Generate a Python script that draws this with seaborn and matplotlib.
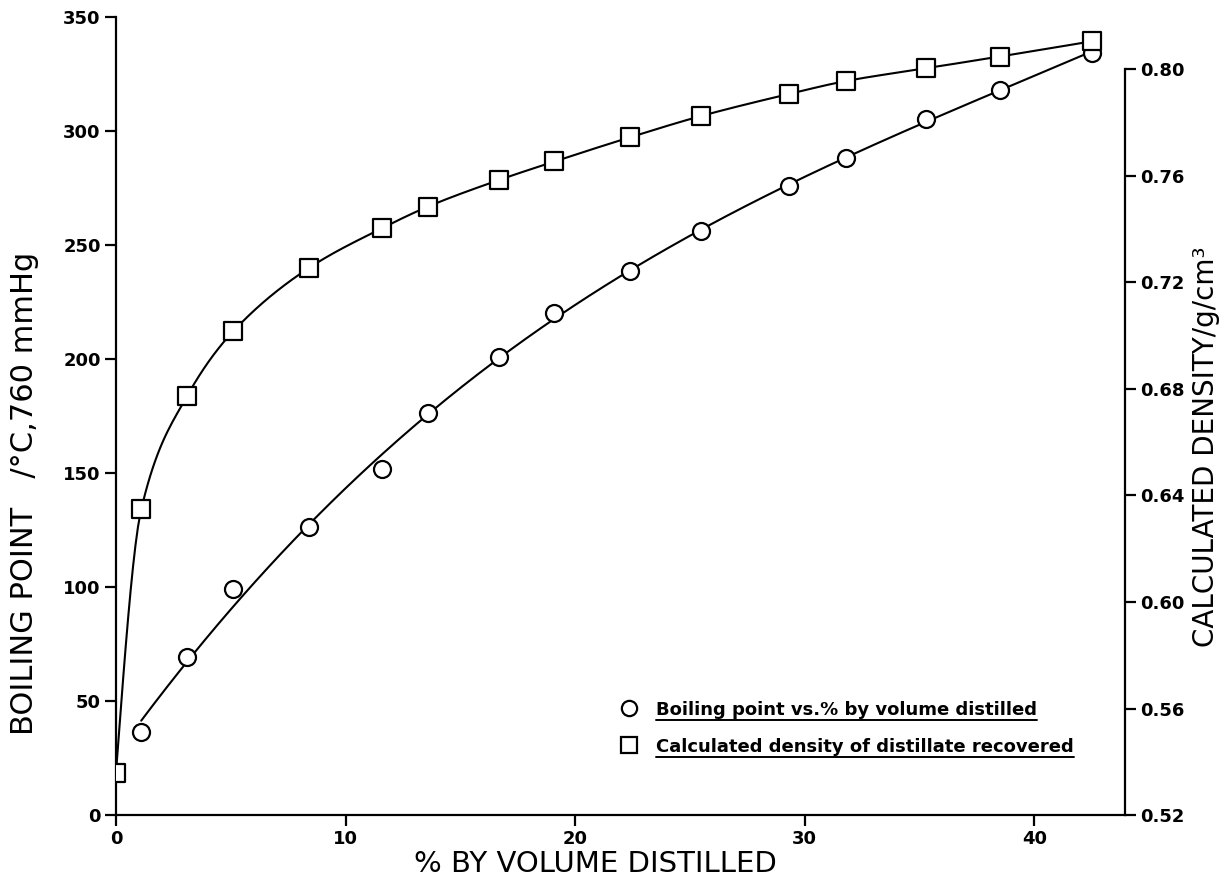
import numpy as np
import pandas as pd
import matplotlib
matplotlib.use("Agg")
import matplotlib.pyplot as plt
from matplotlib.lines import Line2D
import seaborn as sns

# values
pct_bp = [1.1, 3.1, 5.1, 8.4, 11.6, 13.6, 16.7, 19.1, 22.4, 25.5, 29.3, 31.8, 35.3, 38.5, 42.5]
boiling = [36.5, 69.4, 99.1, 126.5, 151.6, 176.2, 200.7, 220.0, 238.6, 256.1, 275.9, 288.3, 305.3, 318.0, 334.1]
pct_dens = [0.0, 1.1, 3.1, 5.1, 8.4, 11.6, 13.6, 16.7, 19.1, 22.4, 25.5, 29.3, 31.8, 35.3, 38.5, 42.5]
density = [0.5358, 0.6347, 0.6773, 0.7015, 0.7253, 0.7403, 0.7484, 0.7584, 0.7653,
           0.7744, 0.7824, 0.7906, 0.7955, 0.8003, 0.8047, 0.8104]
bp_ticks = [0, 50, 100, 150, 200, 250, 300, 350]
dens_ticks = [0.52, 0.56, 0.60, 0.64, 0.68, 0.72, 0.76, 0.80]
x_ticks = [0, 10, 20, 30, 40]
legend_labels = ["Boiling point vs.% by volume distilled",
                 "Calculated density of distillate recovered"]


def pchip(x, y, xs):
    # monotone cubic through the points, for the smooth density curve
    x = np.asarray(x, float)
    y = np.asarray(y, float)
    h = np.diff(x)
    d = np.diff(y) / h
    m = np.zeros_like(y)
    for k in range(1, len(x) - 1):
        if d[k - 1] * d[k] > 0:
            w1 = 2 * h[k] + h[k - 1]
            w2 = h[k] + 2 * h[k - 1]
            m[k] = (w1 + w2) / (w1 / d[k - 1] + w2 / d[k])
    m[0] = ((2 * h[0] + h[1]) * d[0] - h[0] * d[1]) / (h[0] + h[1])
    m[-1] = ((2 * h[-1] + h[-2]) * d[-1] - h[-1] * d[-2]) / (h[-1] + h[-2])
    idx = np.clip(np.searchsorted(x, xs) - 1, 0, len(x) - 2)
    t = (xs - x[idx]) / h[idx]
    h00 = 2 * t**3 - 3 * t**2 + 1
    h10 = t**3 - 2 * t**2 + t
    h01 = -2 * t**3 + 3 * t**2
    h11 = t**3 - t**2
    return h00 * y[idx] + h10 * h[idx] * m[idx] + h01 * y[idx + 1] + h11 * h[idx] * m[idx + 1]


bp_df = pd.DataFrame({"pct": pct_bp, "bp": boiling})
dens_df = pd.DataFrame({"pct": pct_dens, "dens": density})

# smooth curves derived from the points
xs_bp = np.linspace(pct_bp[0], pct_bp[-1], 300)
fit_bp = pd.DataFrame({"pct": xs_bp, "bp": np.polyval(np.polyfit(pct_bp, boiling, 3), xs_bp)})
xs_d = np.linspace(pct_dens[0], pct_dens[-1], 400)
fit_d = pd.DataFrame({"pct": xs_d, "dens": pchip(pct_dens, density, xs_d)})

sns.set_style("ticks")
plt.rcParams["font.family"] = ["DejaVu Sans"]
plt.rcParams["text.color"] = "black"

fig = plt.figure(figsize=(12.27, 8.85), dpi=100)
ax = fig.add_axes([0.0945, 0.079, 0.8223, 0.902])
ax2 = ax.twinx()

lw = 1.5
sns.lineplot(data=fit_bp, x="pct", y="bp", ax=ax, color="black", linewidth=lw, zorder=2)
sns.scatterplot(data=bp_df, x="pct", y="bp", ax=ax, marker="o", s=150,
                facecolor="white", edgecolor="black", linewidth=1.6, zorder=3)
sns.lineplot(data=fit_d, x="pct", y="dens", ax=ax2, color="black", linewidth=lw, zorder=2)
sns.scatterplot(data=dens_df, x="pct", y="dens", ax=ax2, marker="s", s=150,
                facecolor="white", edgecolor="black", linewidth=1.6, zorder=3)

ax.set_xlim(0, 43.95)
ax.set_ylim(0, 350)
ax2.set_ylim(0.52, 0.8196)

ax.set_xticks(x_ticks)
ax.set_yticks(bp_ticks)
ax2.set_yticks(dens_ticks)
ax2.set_yticklabels([f"{v:.2f}" for v in dens_ticks])

for a in (ax, ax2):
    for s in a.spines.values():
        s.set_linewidth(1.6)
        s.set_color("black")
    a.spines["top"].set_visible(False)
    a.tick_params(direction="out", length=8, width=1.6, labelsize=13, pad=3,
                  colors="black")
    for lab in a.get_xticklabels() + a.get_yticklabels():
        lab.set_fontweight("bold")
ax.spines["right"].set_visible(False)
ax2.spines["left"].set_visible(False)
ax2.spines["bottom"].set_visible(False)
ax2.spines["right"].set_bounds(0.52, 0.80)

ax.set_xlabel("% BY VOLUME DISTILLED", fontsize=21, color="black")
ax.set_ylabel("BOILING POINT   /°C,760 mmHg", fontsize=22, color="black")
ax2.set_ylabel("CALCULATED DENSITY/g/cm³", fontsize=20, color="black")
ax.xaxis.set_label_coords(0.475, -0.044)
ax.yaxis.set_label_coords(-0.076, 0.403)
ax2.yaxis.set_label_coords(1.066, 0.462)

handles = [Line2D([], [], marker="o", linestyle="none", markersize=11,
                  markerfacecolor="white", markeredgecolor="black", markeredgewidth=1.6),
           Line2D([], [], marker="s", linestyle="none", markersize=11,
                  markerfacecolor="white", markeredgecolor="black", markeredgewidth=1.6)]
leg = ax2.legend(handles, legend_labels, loc="center left", bbox_to_anchor=(0.4995, 0.109),
                 frameon=False, handlelength=1.0, handletextpad=1.0, labelspacing=1.05,
                 borderpad=0, borderaxespad=0, prop=dict(weight="bold", size=13))
for t in leg.get_texts():
    t.set_color("black")

# underline the legend entries
fig.canvas.draw()
inv = fig.transFigure.inverted()
for t in leg.get_texts():
    bb = t.get_window_extent()
    (x0, y0), (x1, _) = inv.transform([(bb.x0, bb.y0 - 1), (bb.x1, bb.y0 - 1)])
    fig.add_artist(Line2D([x0, x1], [y0, y0], color="black", linewidth=1.4,
                          transform=fig.transFigure))

fig.savefig("out.png", dpi=100)
